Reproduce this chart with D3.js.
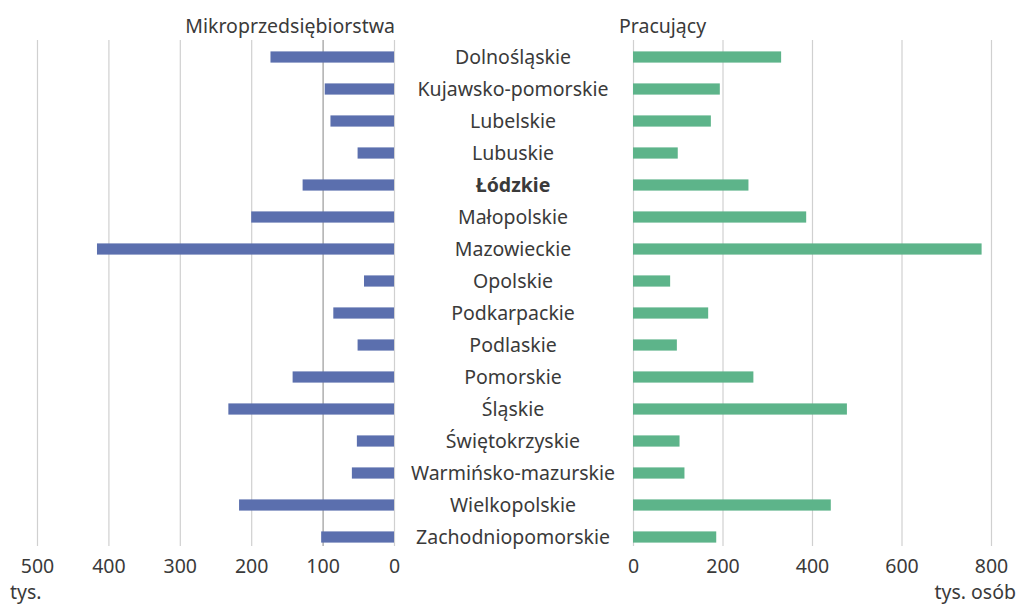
<!DOCTYPE html>
<html>
<head>
<meta charset="utf-8">
<script src="https://cdn.jsdelivr.net/npm/d3@7"></script>
<style>
  body { margin: 0; background: white; }
  text { font-family: 'Noto Sans', 'Open Sans', sans-serif; fill: #3a3a3a; }
</style>
</head>
<body>
<div id="chart"></div>
<script>
// Regions (voivodeships), top to bottom
const regions = ['Dolnośląskie', 'Kujawsko-pomorskie', 'Lubelskie', 'Lubuskie', 'Łódzkie',
    'Małopolskie', 'Mazowieckie', 'Opolskie', 'Podkarpackie', 'Podlaskie', 'Pomorskie',
    'Śląskie', 'Świętokrzyskie', 'Warmińsko-mazurskie', 'Wielkopolskie', 'Zachodniopomorskie'];

// Mikroprzedsiębiorstwa (tys.)
const micro = [173, 97, 89, 51, 128, 200, 416, 42, 85, 51, 142, 232, 52, 59, 217, 102];

// Pracujący (tys. osób)
const workers = [331, 194, 174, 100, 258, 387, 779, 83, 168, 98, 269, 478, 104, 115, 442, 186];

const leftTicks = [500, 400, 300, 200, 100, 0];
const rightTicks = [0, 200, 400, 600, 800];

let width = 1021,
    height = 606;

const fontSize = '19.5px';

let svg = d3.select('#chart')
            .append('svg')
            .attr('width', width)
            .attr('height', height)
            .style('background', 'white');

// Scales
let xLeft = d3.scaleLinear()
            .domain([0, 500])
            .range([394, 37]);

let xRight = d3.scaleLinear()
            .domain([0, 800])
            .range([633, 991]);

let yScale = d3.scaleBand()
            .domain(regions)
            .range([41, 553])
            .paddingInner(0.65)
            .paddingOuter(0.325);

const gridTop = 40, gridBottom = 546;

// Gridlines via axes
let leftAxis = svg.append('g')
            .attr('transform', `translate(0, ${gridBottom})`)
            .call(d3.axisBottom(xLeft).tickValues(leftTicks).tickSize(-(gridBottom - gridTop)).tickFormat(d => d));
leftAxis.select('.domain').remove();
leftAxis.selectAll('line')
        .attr('stroke', d => d === 100 ? '#9a9a9a' : '#d0d0d0')
        .attr('stroke-width', 1.2);
leftAxis.selectAll('text')
        .attr('y', 13)
        .style('font-size', fontSize)
        .style('font-family', "'Noto Sans', sans-serif")
        .attr('fill', '#3a3a3a');

let rightAxis = svg.append('g')
            .attr('transform', `translate(0, ${gridBottom})`)
            .call(d3.axisBottom(xRight).tickValues(rightTicks).tickSize(-(gridBottom - gridTop)).tickFormat(d => d));
rightAxis.select('.domain').remove();
rightAxis.selectAll('line')
        .attr('stroke', '#d0d0d0')
        .attr('stroke-width', 1.2);
rightAxis.selectAll('text')
        .attr('y', 13)
        .style('font-size', fontSize)
        .style('font-family', "'Noto Sans', sans-serif")
        .attr('fill', '#3a3a3a');

// Left bars
svg.selectAll('.bar-left')
    .data(regions)
    .enter()
    .append('rect')
    .attr('class', 'bar-left')
    .attr('x', (d, i) => xLeft(micro[i]))
    .attr('y', d => yScale(d))
    .attr('width', (d, i) => xLeft(0) - xLeft(micro[i]))
    .attr('height', yScale.bandwidth())
    .attr('fill', '#5b6fae');

// Right bars
svg.selectAll('.bar-right')
    .data(regions)
    .enter()
    .append('rect')
    .attr('class', 'bar-right')
    .attr('x', xRight(0))
    .attr('y', d => yScale(d))
    .attr('width', (d, i) => xRight(workers[i]) - xRight(0))
    .attr('height', yScale.bandwidth())
    .attr('fill', '#5db48a');

// Region labels in the middle
svg.selectAll('.region')
    .data(regions)
    .enter()
    .append('text')
    .attr('class', 'region')
    .attr('x', 513)
    .attr('y', d => yScale(d) + yScale.bandwidth() / 2)
    .attr('dy', '0.36em')
    .style('text-anchor', 'middle')
    .style('font-size', fontSize)
    .style('font-weight', d => d === 'Łódzkie' ? 'bold' : 'normal')
    .text(d => d);

// Titles
svg.append('text')
    .attr('x', 395)
    .attr('y', 33)
    .style('text-anchor', 'end')
    .style('font-size', fontSize)
    .text('Mikroprzedsiębiorstwa');

svg.append('text')
    .attr('x', 619)
    .attr('y', 33)
    .style('font-size', fontSize)
    .text('Pracujący');

// Unit labels
svg.append('text')
    .attr('x', 10)
    .attr('y', 599)
    .style('font-size', fontSize)
    .text('tys.');

svg.append('text')
    .attr('x', 1016)
    .attr('y', 599)
    .style('text-anchor', 'end')
    .style('font-size', fontSize)
    .text('tys. osób');
</script>
</body>
</html>
